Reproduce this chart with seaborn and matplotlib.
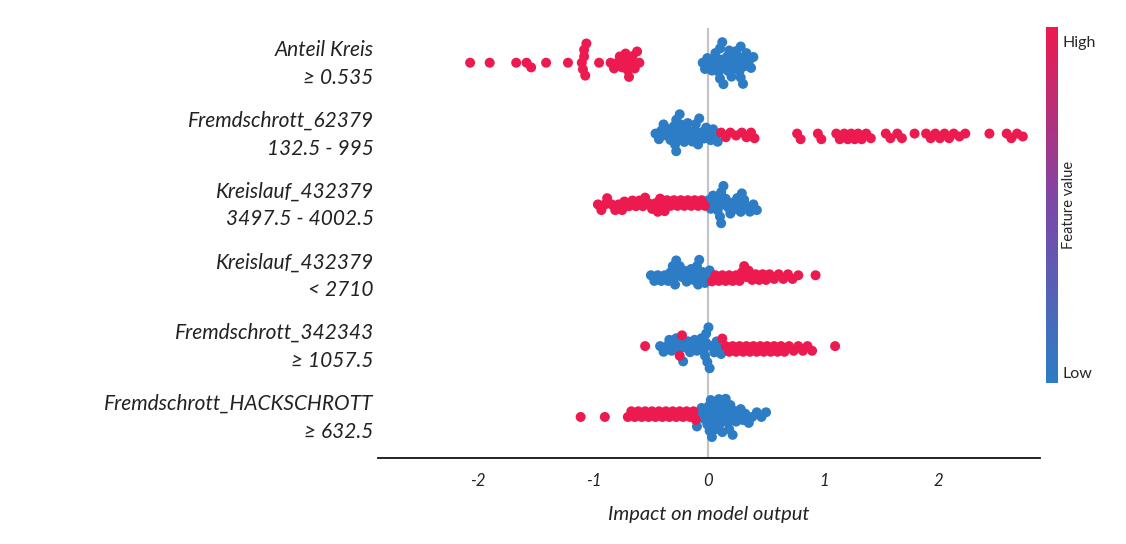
import pandas as pd
import numpy as np
import matplotlib.pyplot as plt
import matplotlib as mpl
import matplotlib.transforms as mtransforms
import seaborn as sns
from matplotlib.colors import LinearSegmentedColormap

# Feature labels (top to bottom)
features = [
    "Anteil Kreis\n≥ 0.535",
    "Fremdschrott_62379\n132.5 - 995",
    "Kreislauf_432379\n3497.5 - 4002.5",
    "Kreislauf_432379\n< 2710",
    "Fremdschrott_342343\n≥ 1057.5",
    "Fremdschrott_HACKSCHROTT\n≥ 632.5",
]

# SHAP values, split by feature value (high / low)
anteil_high = [-2.07, -1.90, -1.67, -1.58, -1.54, -1.41, -1.22, -1.10, -1.09, -1.08, -1.08, -1.07,
               -1.06, -0.95, -0.85, -0.82, -0.79, -0.77, -0.75, -0.73, -0.72, -0.70, -0.69, -0.67,
               -0.66, -0.64, -0.62, -0.60]
anteil_low = [-0.05, -0.03, -0.01, 0.01, 0.03, 0.05, 0.06, 0.08, 0.09, 0.10, 0.10, 0.11, 0.12, 0.13,
              0.14, 0.16, 0.17, 0.18, 0.19, 0.20, 0.22, 0.23, 0.24, 0.26, 0.27, 0.28, 0.28, 0.29,
              0.30, 0.31, 0.33, 0.35, 0.37, 0.39]

fremd62379_high = [0.11, 0.15, 0.19, 0.24, 0.29, 0.33, 0.37, 0.40, 0.77, 0.80, 0.95, 0.98, 1.11, 1.14,
                   1.18, 1.21, 1.24, 1.27, 1.30, 1.33, 1.37, 1.41, 1.54, 1.58, 1.64, 1.68, 1.79, 1.89,
                   1.93, 1.97, 2.01, 2.05, 2.09, 2.13, 2.18, 2.23, 2.44, 2.59, 2.63, 2.68, 2.73]
fremd62379_low = [-0.46, -0.43, -0.41, -0.39, -0.37, -0.35, -0.33, -0.31, -0.30, -0.29, -0.28, -0.28,
                  -0.27, -0.26, -0.25, -0.24, -0.22, -0.21, -0.19, -0.18, -0.16, -0.14, -0.12, -0.11,
                  -0.10, -0.09, -0.08, -0.06, -0.04, -0.02, 0.00, 0.02, 0.04, 0.06, 0.08]

kreis3497_high = [-0.96, -0.93, -0.90, -0.88, -0.84, -0.81, -0.78, -0.75, -0.73, -0.69, -0.66, -0.63,
                  -0.60, -0.57, -0.55, -0.52, -0.49, -0.46, -0.44, -0.42, -0.40, -0.38, -0.36, -0.33,
                  -0.30, -0.27, -0.24, -0.21, -0.18, -0.15, -0.12, -0.09, -0.06, -0.03]
kreis3497_low = [0.00, 0.02, 0.04, 0.06, 0.08, 0.09, 0.10, 0.11, 0.11, 0.12, 0.13, 0.15, 0.17, 0.19,
                 0.21, 0.23, 0.25, 0.27, 0.28, 0.29, 0.31, 0.33, 0.36, 0.39, 0.42]

kreis2710_high = [0.03, 0.06, 0.09, 0.12, 0.15, 0.18, 0.21, 0.24, 0.27, 0.29, 0.31, 0.33, 0.35, 0.38,
                  0.41, 0.44, 0.47, 0.50, 0.53, 0.57, 0.61, 0.65, 0.69, 0.73, 0.78, 0.93]
kreis2710_low = [-0.50, -0.47, -0.44, -0.41, -0.38, -0.35, -0.33, -0.31, -0.30, -0.29, -0.28, -0.27,
                 -0.25, -0.23, -0.21, -0.19, -0.17, -0.15, -0.13, -0.11, -0.10, -0.09, -0.08, -0.07,
                 -0.05, -0.03, -0.01, 0.01]

fremd342343_high = [-0.55, -0.25, -0.23, 0.12, 0.15, 0.18, 0.21, 0.24, 0.27, 0.30, 0.33, 0.36, 0.39,
                    0.42, 0.45, 0.48, 0.51, 0.54, 0.57, 0.60, 0.63, 0.66, 0.70, 0.74, 0.78, 0.82,
                    0.86, 0.90, 1.10]
fremd342343_low = [-0.42, -0.39, -0.36, -0.34, -0.32, -0.30, -0.28, -0.26, -0.24, -0.22, -0.20, -0.18,
                   -0.16, -0.14, -0.12, -0.10, -0.08, -0.06, -0.04, -0.03, -0.02, -0.02, -0.01, 0.00,
                   0.01, 0.03, 0.05, 0.07, 0.09, 0.11]

hack_high = [-1.11, -0.90, -0.70, -0.67, -0.64, -0.61, -0.58, -0.55, -0.52, -0.49, -0.46, -0.43,
             -0.40, -0.37, -0.34, -0.31, -0.28, -0.25, -0.22, -0.19, -0.16, -0.13, -0.11]
hack_low = [-0.10, -0.08, -0.06, -0.04, -0.02, -0.01, 0.00, 0.01, 0.02, 0.02, 0.03, 0.04, 0.05, 0.06,
            0.07, 0.08, 0.09, 0.10, 0.11, 0.12, 0.13, 0.14, 0.15, 0.16, 0.17, 0.18, 0.19, 0.20,
            0.21, 0.22, 0.24, 0.26, 0.28, 0.30, 0.32, 0.35, 0.38, 0.42, 0.46, 0.50]

xticks = [-2, -1, 0, 1, 2]

# Build long table
groups = [
    (anteil_high, anteil_low),
    (fremd62379_high, fremd62379_low),
    (kreis3497_high, kreis3497_low),
    (kreis2710_high, kreis2710_low),
    (fremd342343_high, fremd342343_low),
    (hack_high, hack_low),
]
rows = []
for feat, (hi, lo) in zip(features, groups):
    for v in lo:
        rows.append({"feature": feat, "shap": v, "value": "Low"})
    for v in hi:
        rows.append({"feature": feat, "shap": v, "value": "High"})
df = pd.DataFrame(rows)

red = "#ec1a4f"
blue = "#2c7dc5"

sns.set_style("white")
plt.rcParams['font.family'] = ['Lato', 'DejaVu Sans']

fig = plt.figure(figsize=(11.26, 5.44), dpi=100)
ax = fig.add_axes([0.3357, 0.158, 0.588, 0.7905])

ax.axvline(0, color="#c4c4c4", lw=1.6, zorder=0)
# swarm laid out with small markers, then drawn bigger so dots overlap like shap
sns.swarmplot(data=df, x="shap", y="feature", hue="value", order=features,
              palette={"High": red, "Low": blue}, orient="h", size=4.6,
              linewidth=0, legend=False, ax=ax)

ax.set_xlim(-2.87, 2.88)
ax.set_ylim(5.58, -0.49)
ax.set_yticks(range(len(features)))
ax.set_yticklabels(features, fontsize=15, style="italic", color="#222222", linespacing=1.5)
ax.set_ylabel("")
ax.tick_params(axis="y", length=0, pad=3)
# nudge the two-line labels up a little
shift = mtransforms.ScaledTranslation(0, 5 / 100, fig.dpi_scale_trans)
for lab in ax.get_yticklabels():
    lab.set_transform(lab.get_transform() + shift)

ax.set_xticks(xticks)
ax.set_xticklabels([str(t) for t in xticks], fontsize=12, style="italic", color="#222222")
ax.tick_params(axis="x", direction="out", length=6, width=1, color="#333333", pad=5)
ax.set_xlabel("Impact on model output", fontsize=14.5, style="italic", color="#222222", labelpad=12)

for s in ["top", "right", "left"]:
    ax.spines[s].set_visible(False)
ax.spines["bottom"].set_color("#111111")
ax.spines["bottom"].set_linewidth(1.3)

# Colorbar
cmap = LinearSegmentedColormap.from_list("shap", [blue, "#7b47a8", red])
cax = fig.add_axes([0.929, 0.296, 0.0105, 0.654])
sm = mpl.cm.ScalarMappable(cmap=cmap, norm=mpl.colors.Normalize(0, 1))
cb = fig.colorbar(sm, cax=cax)
cb.outline.set_visible(False)
cb.set_ticks([0.03, 0.96])
cb.set_ticklabels(["Low", "High"])
cb.ax.tick_params(length=0, labelsize=11.5, pad=3)
cb.set_label("Feature value", fontsize=10.5, labelpad=-24)

# freeze the swarm layout, then enlarge the dots
fig.canvas.draw()
for coll in ax.collections:
    if "draw" in coll.__dict__:
        del coll.draw
        coll.set_sizes([7.2 ** 2])

fig.savefig("out.png", dpi=100)
